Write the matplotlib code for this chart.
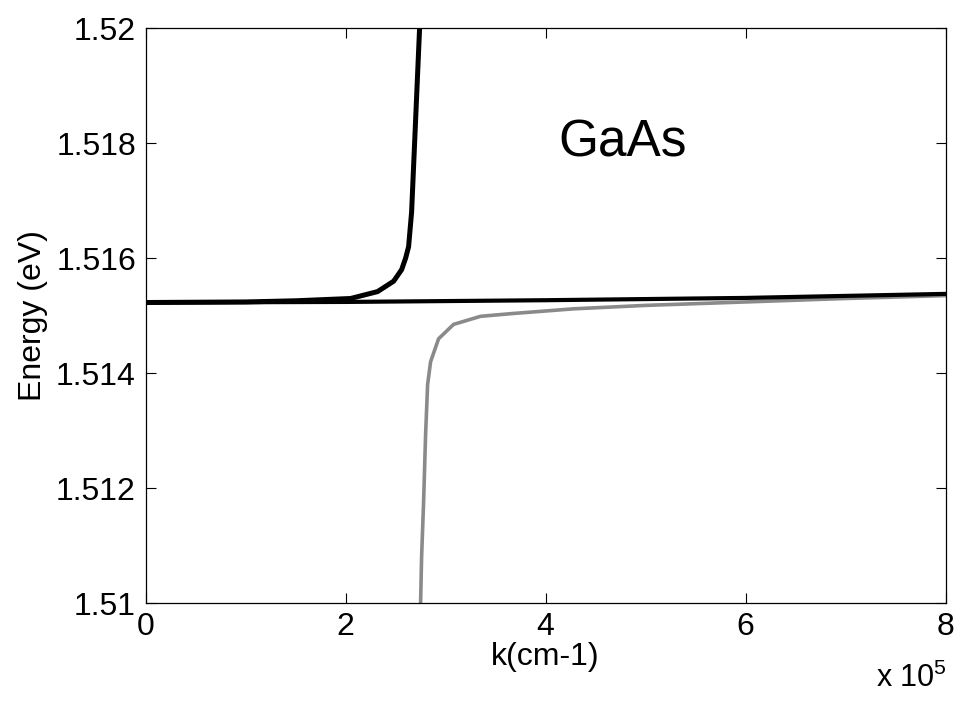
#!/usr/bin/env python
# coding=utf8
"""
GaAs exciton-polariton dispersion near k ~ 2.7e5 cm-1
"""
import numpy as np
import matplotlib
matplotlib.use('Agg')
import matplotlib.pyplot as plt

################################################################################
# k in units of 1e5 cm-1, energy in eV
k_upper = [0.0, 1.0, 1.5, 2.05, 2.32, 2.48, 2.56, 2.60, 2.63, 2.66, 2.68,
           2.70, 2.72, 2.74]
e_upper = [1.51523, 1.51524, 1.51526, 1.51530, 1.51542, 1.51560, 1.51580,
           1.51600, 1.51620, 1.51680, 1.51760, 1.51840, 1.51920, 1.52000]

k_exciton = [0.0, 2.0, 4.0, 6.0, 8.0]
e_exciton = [1.51523, 1.51524, 1.51527, 1.51531, 1.51538]

k_lower = [2.75, 2.76, 2.78, 2.80, 2.82, 2.85, 2.93, 3.08, 3.35, 3.68, 4.28,
           5.0, 6.0, 7.0, 8.0]
e_lower = [1.51000, 1.51080, 1.51176, 1.51293, 1.51380, 1.51420, 1.51460,
           1.51485, 1.51499, 1.51504, 1.51512, 1.51518, 1.51524, 1.51530,
           1.51535]

x_ticks = [0, 2, 4, 6, 8]
y_ticks = [1.51, 1.512, 1.514, 1.516, 1.518, 1.52]
y_tick_labels = ['1.51', '1.512', '1.514', '1.516', '1.518', '1.52']

################################################################################
plt.rcParams['font.family'] = ['Liberation Sans', 'DejaVu Sans']
plt.rcParams['mathtext.fontset'] = 'custom'
plt.rcParams['mathtext.rm'] = 'Liberation Sans'

fig = plt.figure(figsize=(9.58, 7.04), dpi=100)
ax = fig.add_axes([0.152, 0.143, 0.835, 0.817])

ax.plot(k_lower, e_lower, color='#8a8a8a', lw=2.6)
ax.plot(k_exciton, e_exciton, color='black', lw=3.0)
ax.plot(k_upper, e_upper, color='black', lw=3.6)

ax.set_xlim(0, 8)
ax.set_ylim(1.51, 1.52)
ax.set_xticks(x_ticks)
ax.set_xticklabels([str(t) for t in x_ticks])
ax.set_yticks(y_ticks)
ax.set_yticklabels(y_tick_labels)
ax.tick_params(direction='in', length=7, width=0.8, labelsize=23,
               top=True, right=True)
ax.tick_params(axis='x', pad=6)
ax.tick_params(axis='y', pad=7)
for sp in ax.spines.values():
    sp.set_linewidth(0.9)

ax.set_xlabel('k(cm-1)', fontsize=23, labelpad=0)
ax.set_ylabel('Energy (eV)', fontsize=23, labelpad=6)
ax.text(4.77, 1.5180, 'GaAs', fontsize=37, ha='center', va='center')
fig.text(0.988, 0.014, r'x 10$^5$', fontsize=22, ha='right', va='bottom')

fig.savefig('out.png', dpi=100)
